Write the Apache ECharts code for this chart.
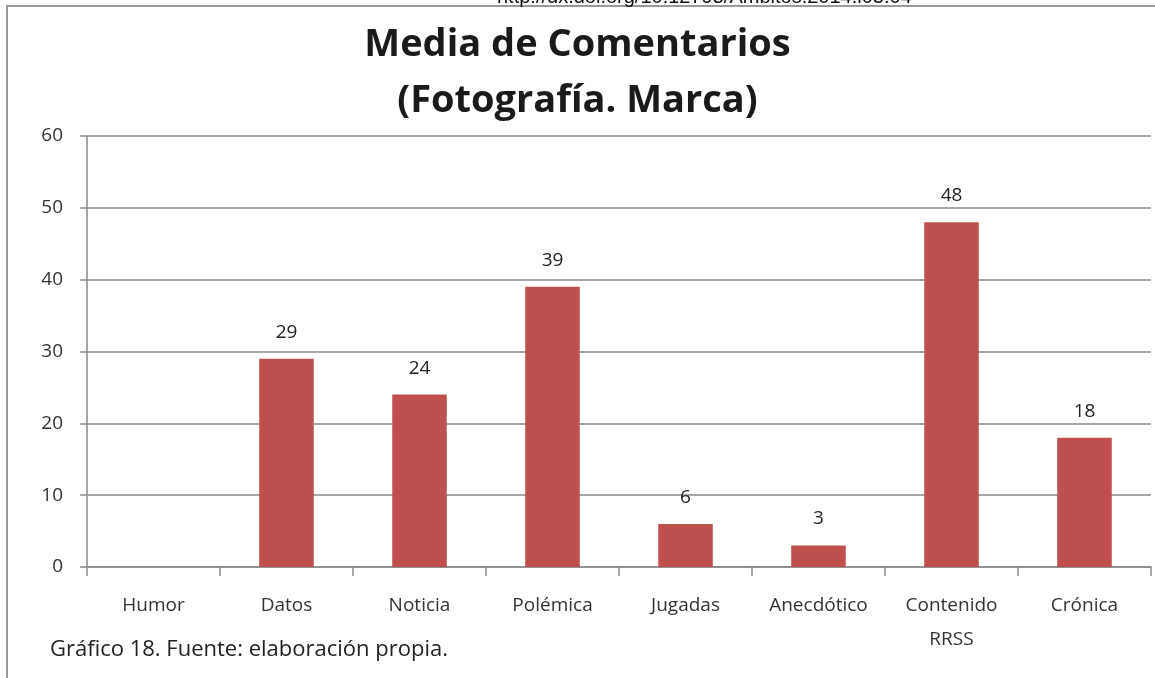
<!DOCTYPE html>
<html lang="es">
<head>
    <meta charset="UTF-8">
    <title>Media de Comentarios</title>
    <script src="https://cdn.jsdelivr.net/npm/echarts@6/dist/echarts.min.js"></script>
    <style>
        html, body { margin: 0; padding: 0; background: #fff; }
        #chart { width: 1155px; height: 678px; }
    </style>
</head>
<body>
<div id="chart"></div>
<script>
    // datos
    var categorias = ['Humor', 'Datos', 'Noticia', 'Polémica', 'Jugadas', 'Anecdótico', 'Contenido\nRRSS', 'Crónica'];
    var valores = [0, 29, 24, 39, 6, 3, 48, 18];
    var ejeY = [0, 10, 20, 30, 40, 50, 60];

    var fuente = 'Open Sans';
    var gris = '#8a8a8a';

    var chart = echarts.init(document.getElementById('chart'));

    var option = {
        backgroundColor: '#fff',
        animation: false,
        title: {
            text: 'Media de Comentarios\n(Fotografía. Marca)',
            left: 'center',
            top: 12,
            textStyle: {
                fontFamily: fuente,
                fontSize: 38,
                fontWeight: 'bold',
                color: '#1a1a1a',
                lineHeight: 56
            }
        },
        grid: {
            left: 87,
            right: 4,
            top: 136,
            bottom: 111
        },
        xAxis: {
            type: 'category',
            data: categorias,
            axisLine: { lineStyle: { color: gris, width: 1.5 } },
            axisTick: { show: true, length: 9, alignWithLabel: false, lineStyle: { color: gris, width: 1.5 } },
            axisLabel: {
                color: '#333',
                fontFamily: fuente,
                fontSize: 19,
                margin: 22,
                lineHeight: 34,
                interval: 0,
                verticalAlign: 'top'
            }
        },
        yAxis: {
            type: 'value',
            min: ejeY[0],
            max: ejeY[ejeY.length - 1],
            interval: 10,
            axisLine: { show: true, lineStyle: { color: gris, width: 1.5 } },
            axisTick: { show: true, length: 7, lineStyle: { color: gris, width: 1.5 } },
            splitLine: { lineStyle: { color: gris, width: 1.5 } },
            axisLabel: {
                color: '#333',
                fontFamily: fuente,
                fontSize: 19,
                margin: 24
            }
        },
        series: [{
            type: 'bar',
            data: valores,
            barWidth: '41%',
            itemStyle: {
                color: '#c0504d'
            },
            label: {
                show: true,
                position: 'top',
                distance: 17,
                color: '#222',
                fontFamily: fuente,
                fontSize: 19,
                formatter: function (p) { return p.value > 0 ? p.value : ''; }
            }
        }],
        graphic: [
            {
                type: 'rect',
                shape: { x: 7, y: 6, width: 1160, height: 700 },
                style: { fill: 'none', stroke: '#9a9a9a', lineWidth: 2 },
                silent: true
            },
            {
                type: 'text',
                left: 497,
                top: -13,
                style: {
                    text: 'http://dx.doi.org/10.12795/Ambitos.2014.i03.04',
                    fontFamily: 'Liberation Sans',
                    fontSize: 20,
                    fill: '#111'
                }
            },
            {
                type: 'text',
                left: 50,
                top: 639,
                style: {
                    text: 'Gráfico 18. Fuente: elaboración propia.',
                    fontFamily: fuente,
                    fontSize: 22,
                    fill: '#222'
                }
            }
        ]
    };

    chart.setOption(option);
</script>
</body>
</html>
